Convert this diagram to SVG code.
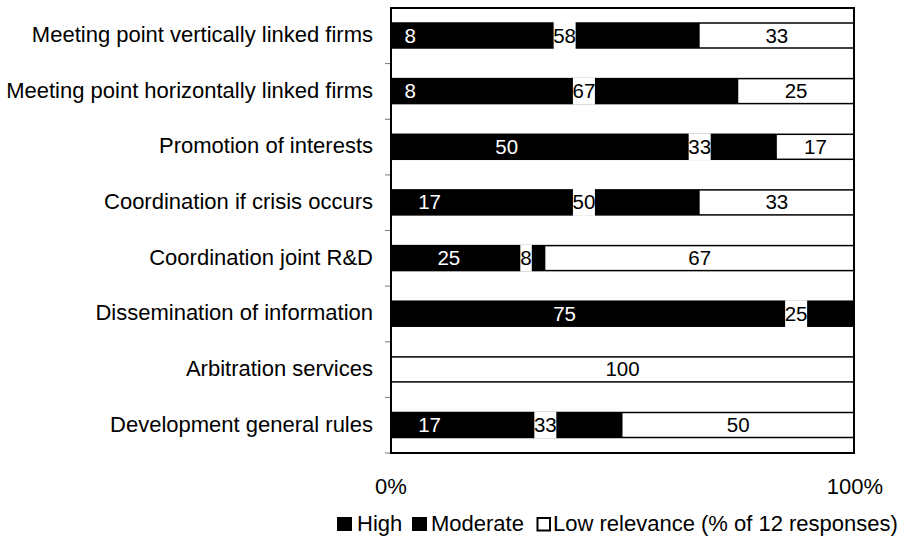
<svg xmlns="http://www.w3.org/2000/svg" width="903" height="536" viewBox="0 0 903 536">
<style>
text{font-family:"Liberation Sans",Arial,Helvetica,sans-serif}
.cat{font-size:22px;fill:#000;text-anchor:end}
.ax{font-size:22px;fill:#000;text-anchor:middle}
.leg{font-size:22px;fill:#000}
.val{font-size:20.5px;text-anchor:middle}
.vw{fill:#fff}
.vk{fill:#000}
.bg{fill:#fff}
.blk{fill:#000}
.gap{fill:#fff}
.ol{fill:none;stroke:#000;stroke-width:1.5}
.tick{stroke:#777;stroke-width:1}
</style>
<rect width="903" height="536" fill="#fff"/>

<g id="categories">
<text class="cat" x="373" y="42">Meeting point vertically linked firms</text>
<text class="cat" x="373" y="97.6">Meeting point horizontally linked firms</text>
<text class="cat" x="373" y="153.3">Promotion of interests</text>
<text class="cat" x="373" y="208.9">Coordination if crisis occurs</text>
<text class="cat" x="373" y="264.6">Coordination joint R&amp;D</text>
<text class="cat" x="373" y="320.2">Dissemination of information</text>
<text class="cat" x="373" y="375.9">Arbitration services</text>
<text class="cat" x="373" y="431.5">Development general rules</text>
</g>

<g id="ticks">
<line class="tick" x1="385" y1="63.6" x2="391" y2="63.6"/>
<line class="tick" x1="385" y1="119.3" x2="391" y2="119.3"/>
<line class="tick" x1="385" y1="174.9" x2="391" y2="174.9"/>
<line class="tick" x1="385" y1="230.5" x2="391" y2="230.5"/>
<line class="tick" x1="385" y1="286.1" x2="391" y2="286.1"/>
<line class="tick" x1="385" y1="341.8" x2="391" y2="341.8"/>
<line class="tick" x1="385" y1="397.4" x2="391" y2="397.4"/>
<line class="tick" x1="385" y1="453" x2="391" y2="453"/>
</g>

<g id="bar1">
<rect class="bg" x="391" y="23" width="463" height="25"/>
<rect class="blk" x="391" y="23" width="308.67" height="25"/>
<rect class="ol" x="391" y="23" width="463" height="25"/>
<rect class="gap" x="553.63" y="22" width="22" height="27"/>
<text class="val vw" x="410.29" y="42.5">8</text>
<text class="val vk" x="564.63" y="42.5">58</text>
<text class="val vk" x="776.83" y="42.5">33</text>
</g>

<g id="bar2">
<rect class="bg" x="391" y="78.6" width="463" height="25"/>
<rect class="blk" x="391" y="78.6" width="347.25" height="25"/>
<rect class="ol" x="391" y="78.6" width="463" height="25"/>
<rect class="gap" x="572.92" y="77.6" width="22" height="27"/>
<text class="val vw" x="410.29" y="98.1">8</text>
<text class="val vk" x="583.92" y="98.1">67</text>
<text class="val vk" x="796.13" y="98.1">25</text>
</g>

<g id="bar3">
<rect class="bg" x="391" y="134.3" width="463" height="25"/>
<rect class="blk" x="391" y="134.3" width="385.83" height="25"/>
<rect class="ol" x="391" y="134.3" width="463" height="25"/>
<rect class="gap" x="688.67" y="133.3" width="22" height="27"/>
<text class="val vw" x="506.75" y="153.8">50</text>
<text class="val vk" x="699.67" y="153.8">33</text>
<text class="val vk" x="815.42" y="153.8">17</text>
</g>

<g id="bar4">
<rect class="bg" x="391" y="189.9" width="463" height="25"/>
<rect class="blk" x="391" y="189.9" width="308.67" height="25"/>
<rect class="ol" x="391" y="189.9" width="463" height="25"/>
<rect class="gap" x="572.92" y="188.9" width="22" height="27"/>
<text class="val vw" x="429.58" y="209.4">17</text>
<text class="val vk" x="583.92" y="209.4">50</text>
<text class="val vk" x="776.83" y="209.4">33</text>
</g>

<g id="bar5">
<rect class="bg" x="391" y="245.6" width="463" height="25"/>
<rect class="blk" x="391" y="245.6" width="154.33" height="25"/>
<rect class="ol" x="391" y="245.6" width="463" height="25"/>
<rect class="gap" x="520.29" y="244.6" width="11.5" height="27"/>
<text class="val vw" x="448.88" y="265.1">25</text>
<text class="val vk" x="526.04" y="265.1">8</text>
<text class="val vk" x="699.67" y="265.1">67</text>
</g>

<g id="bar6">
<rect class="bg" x="391" y="301.2" width="463" height="25"/>
<rect class="blk" x="391" y="301.2" width="463" height="25"/>
<rect class="ol" x="391" y="301.2" width="463" height="25"/>
<rect class="gap" x="785.13" y="300.2" width="22" height="27"/>
<text class="val vw" x="564.63" y="320.7">75</text>
<text class="val vk" x="796.13" y="320.7">25</text>
</g>

<g id="bar7">
<rect class="bg" x="391" y="356.9" width="463" height="25"/>
<rect class="ol" x="391" y="356.9" width="463" height="25"/>
<text class="val vk" x="622.5" y="376.4">100</text>
</g>

<g id="bar8">
<rect class="bg" x="391" y="412.5" width="463" height="25"/>
<rect class="blk" x="391" y="412.5" width="231.5" height="25"/>
<rect class="ol" x="391" y="412.5" width="463" height="25"/>
<rect class="gap" x="534.33" y="411.5" width="22" height="27"/>
<text class="val vw" x="429.58" y="432">17</text>
<text class="val vk" x="545.33" y="432">33</text>
<text class="val vk" x="738.25" y="432">50</text>
</g>

<g id="frame">
<rect x="391" y="8" width="463" height="445" fill="none" stroke="#000" stroke-width="2"/>
</g>

<g id="axis">
<text class="ax" x="391" y="494">0%</text>
<text class="ax" x="855" y="494">100%</text>
</g>

<g id="legend">
<rect x="337" y="517" width="15" height="14" fill="#000"/>
<text class="leg" x="357" y="531">High</text>
<rect x="412" y="517" width="15" height="14" fill="#000"/>
<text class="leg" x="431" y="531">Moderate</text>
<rect x="537.5" y="518" width="12.5" height="12.5" fill="#fff" stroke="#000" stroke-width="2"/>
<text class="leg" x="553" y="531">Low relevance (% of 12 responses)</text>
</g>
</svg>
